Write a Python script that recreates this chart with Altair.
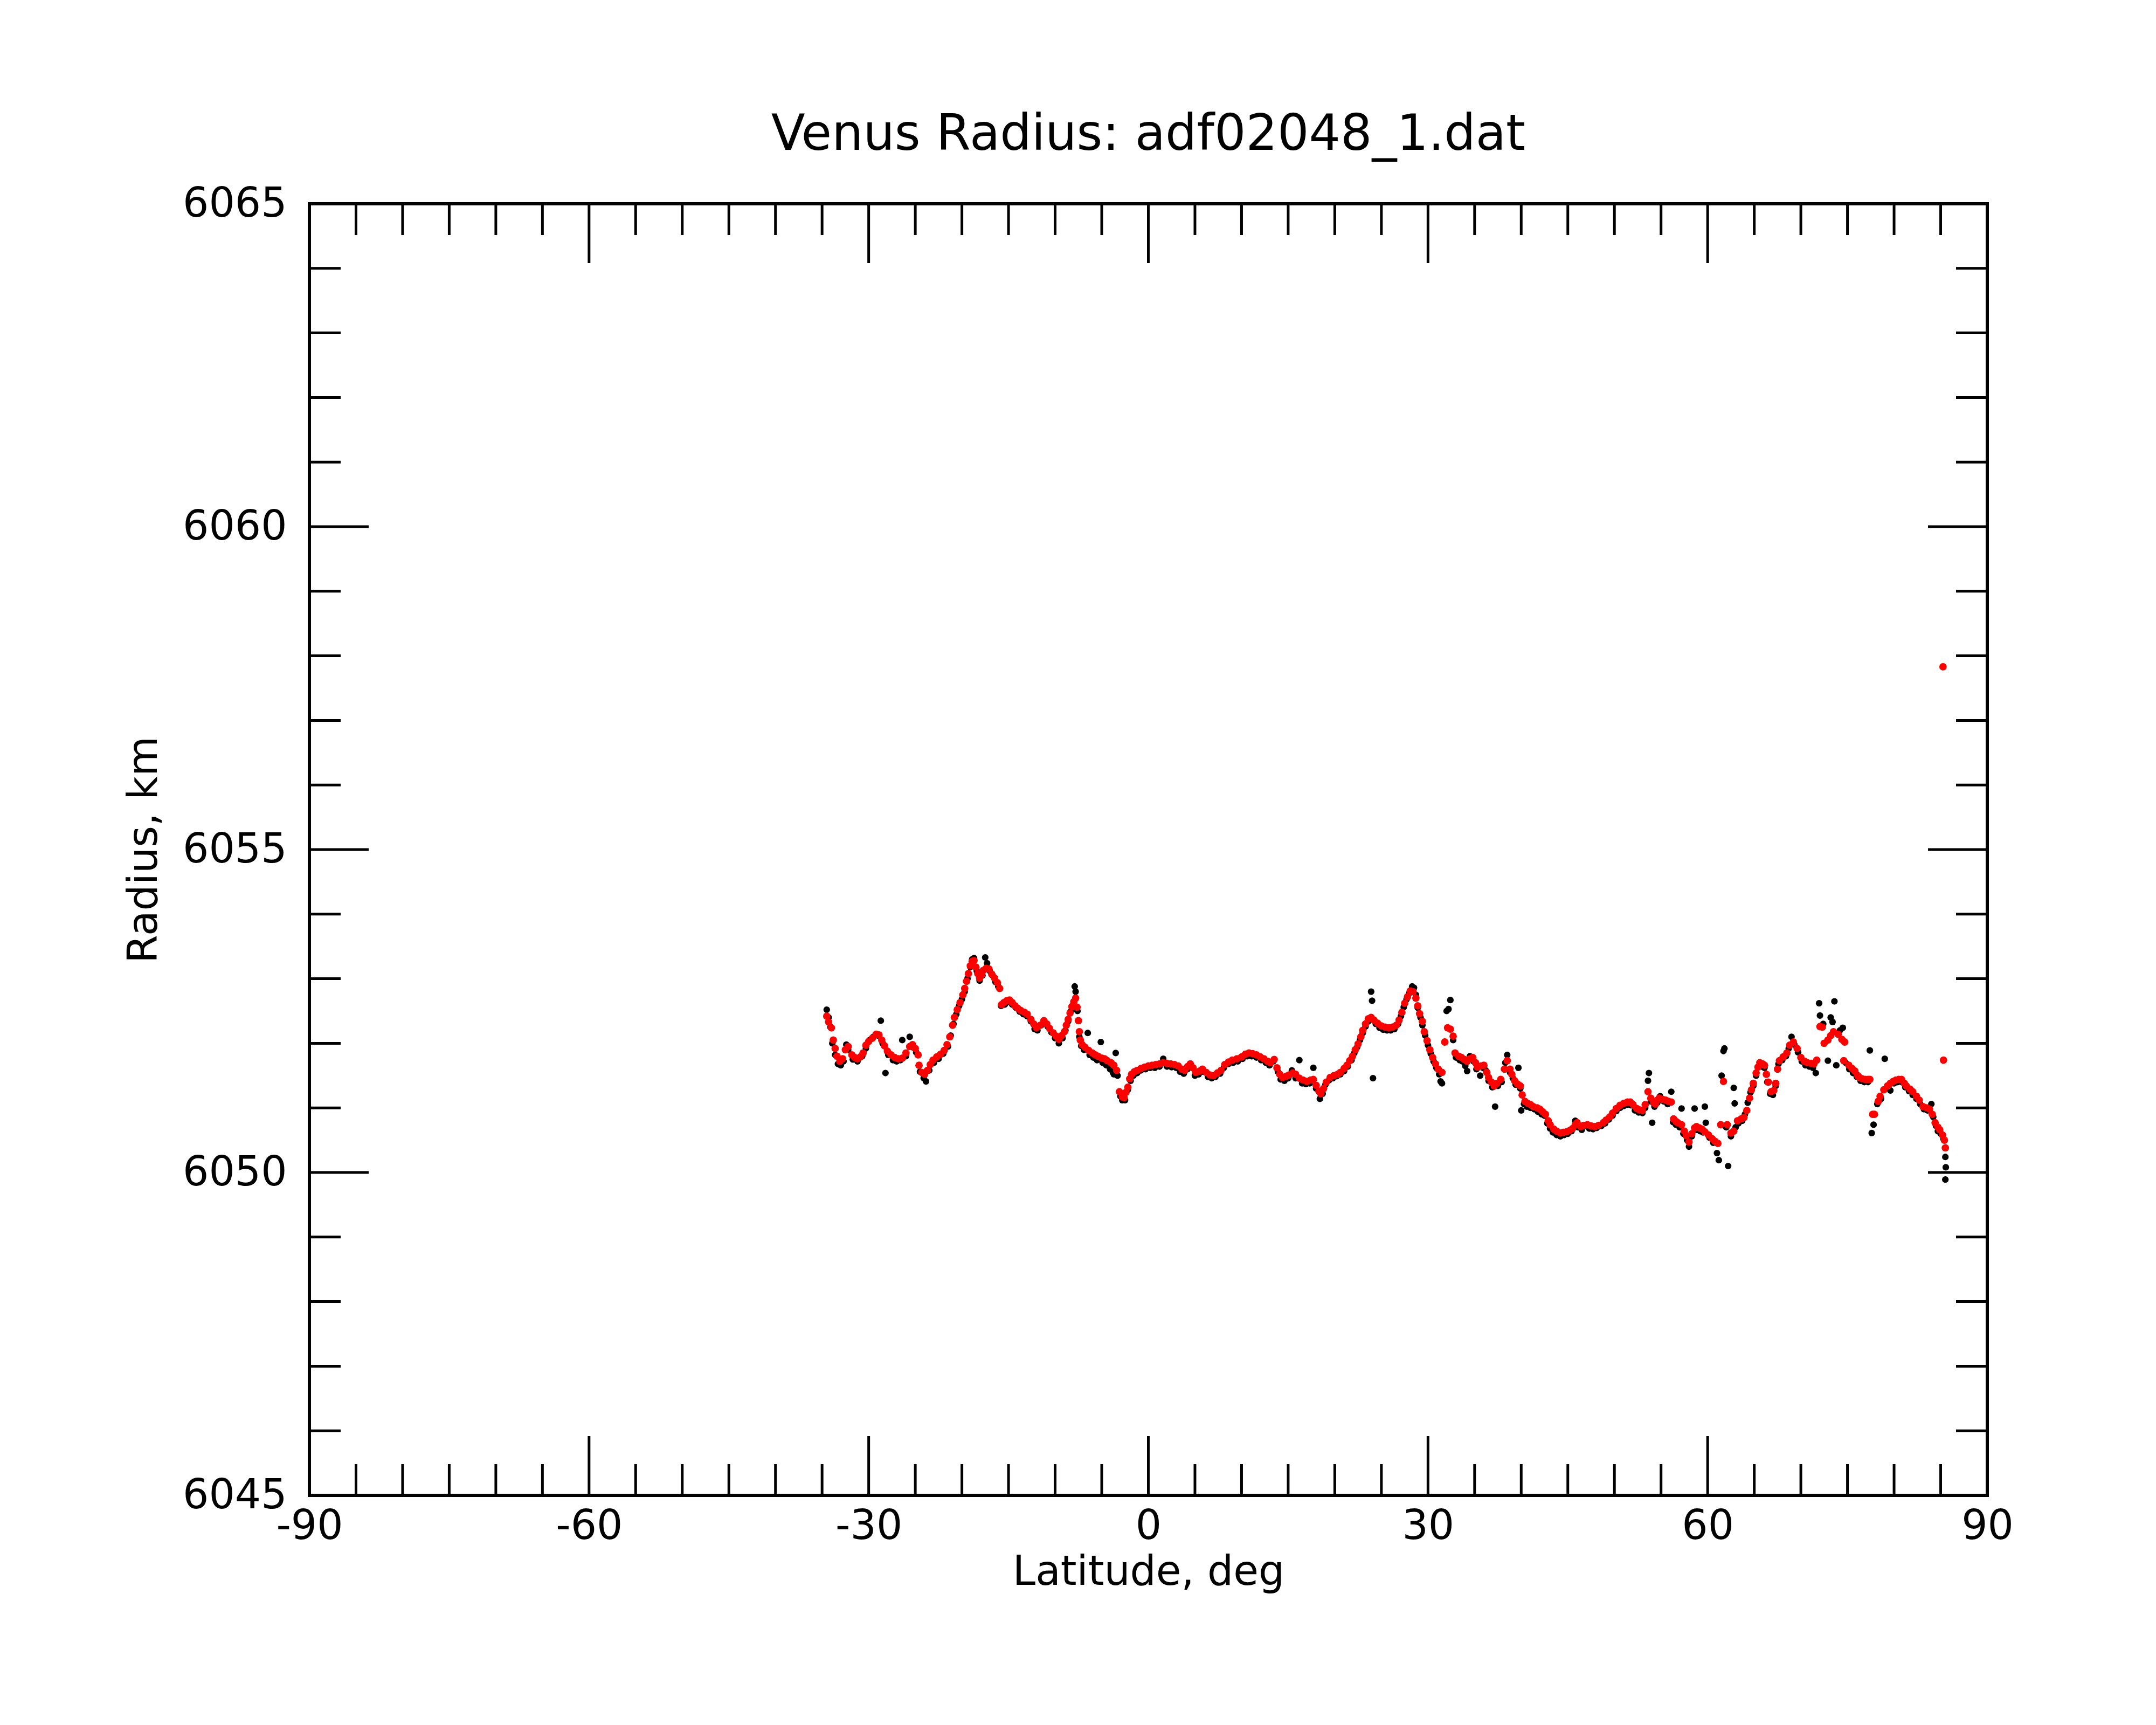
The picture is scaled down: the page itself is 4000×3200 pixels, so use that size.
import altair as alt
import pandas as pd

TITLE = "Venus Radius: adf02048_1.dat"
X_TITLE = "Latitude, deg"
Y_TITLE = "Radius, km"
X_LABELS = [-90, -60, -30, 0, 30, 60, 90]
Y_LABELS = [6045, 6050, 6055, 6060, 6065]
X_MAJOR = [-60, -30, 0, 30, 60]
X_MINOR = [-85, -80, -75, -70, -65, -55, -50, -45, -40, -35, -25, -20, -15, -10, -5,
           5, 10, 15, 20, 25, 35, 40, 45, 50, 55, 65, 70, 75, 80, 85]
Y_MAJOR = [6050, 6055, 6060]
Y_MINOR = [6046, 6047, 6048, 6049, 6051, 6052, 6053, 6054, 6056, 6057, 6058, 6059,
           6061, 6062, 6063, 6064]

# red series (latitude, radius)
red_points = [
    (-34.5, 6052.42), (-34.3, 6052.33), (-34.0, 6052.24), (-33.8, 6052.05), (-33.6, 6051.92),
    (-33.4, 6051.80), (-33.1, 6051.72), (-32.8, 6051.76), (-32.5, 6051.90), (-32.2, 6051.95),
    (-31.8, 6051.82), (-31.5, 6051.78), (-31.2, 6051.76), (-30.9, 6051.79), (-30.6, 6051.85),
    (-30.3, 6051.97), (-30.0, 6052.03), (-29.6, 6052.08), (-29.2, 6052.14), (-28.9, 6052.13),
    (-28.6, 6052.05), (-28.3, 6051.96), (-28.0, 6051.88), (-27.6, 6051.82), (-27.2, 6051.78),
    (-26.8, 6051.76), (-26.4, 6051.77), (-26.0, 6051.85), (-25.6, 6051.95), (-25.3, 6051.98),
    (-25.0, 6051.92), (-24.7, 6051.82), (-24.6, 6051.66), (-24.3, 6051.55), (-24.0, 6051.52),
    (-23.7, 6051.58), (-23.4, 6051.67), (-23.1, 6051.74), (-22.7, 6051.79), (-22.3, 6051.83),
    (-21.9, 6051.89), (-21.6, 6051.98), (-21.3, 6052.10), (-21.0, 6052.28), (-20.8, 6052.40),
    (-20.5, 6052.52), (-20.2, 6052.63), (-19.9, 6052.75), (-19.7, 6052.85), (-19.5, 6052.96),
    (-19.3, 6053.08), (-19.1, 6053.20), (-18.9, 6053.27), (-18.7, 6053.28), (-18.5, 6053.18),
    (-18.3, 6053.08), (-18.1, 6053.01), (-17.9, 6053.06), (-17.7, 6053.13), (-17.4, 6053.16),
    (-17.1, 6053.15), (-16.8, 6053.07), (-16.5, 6053.01), (-16.2, 6052.94), (-15.95, 6052.85),
    (-15.75, 6052.60), (-15.5, 6052.63), (-15.2, 6052.66), (-14.9, 6052.67), (-14.6, 6052.63),
    (-14.3, 6052.58), (-14.0, 6052.54), (-13.7, 6052.51), (-13.3, 6052.48), (-13.0, 6052.45),
    (-12.6, 6052.37), (-12.3, 6052.30), (-12.0, 6052.24), (-11.6, 6052.28), (-11.2, 6052.35),
    (-10.9, 6052.30), (-10.6, 6052.23), (-10.2, 6052.16), (-9.9, 6052.11), (-9.6, 6052.06),
    (-9.3, 6052.12), (-9.0, 6052.18), (-8.8, 6052.28), (-8.6, 6052.37), (-8.4, 6052.47),
    (-8.2, 6052.57), (-8.0, 6052.64), (-7.8, 6052.70), (-7.65, 6052.56), (-7.5, 6052.35),
    (-7.4, 6052.18), (-7.3, 6052.05), (-7.1, 6051.98), (-6.8, 6051.94), (-6.4, 6051.89),
    (-6.0, 6051.85), (-5.7, 6051.82), (-5.4, 6051.80), (-5.0, 6051.77), (-4.7, 6051.76),
    (-4.4, 6051.73), (-4.0, 6051.70), (-3.7, 6051.66), (-3.4, 6051.58), (-3.1, 6051.25),
    (-2.8, 6051.17), (-2.6, 6051.16), (-2.4, 6051.24), (-2.2, 6051.32), (-2.0, 6051.45),
    (-1.8, 6051.52), (-1.5, 6051.56), (-1.2, 6051.58), (-0.8, 6051.61), (-0.4, 6051.63),
    (0.0, 6051.65), (0.4, 6051.66), (0.8, 6051.67), (1.2, 6051.68), (1.6, 6051.70),
    (2.0, 6051.69), (2.4, 6051.68), (2.8, 6051.67), (3.2, 6051.65), (3.6, 6051.60),
    (3.9, 6051.58), (4.2, 6051.64), (4.5, 6051.68), (4.8, 6051.62), (5.1, 6051.55),
    (5.5, 6051.57), (5.8, 6051.60), (6.2, 6051.55), (6.6, 6051.51), (7.0, 6051.50),
    (7.4, 6051.54), (7.8, 6051.58), (8.2, 6051.67), (8.6, 6051.71), (9.0, 6051.74),
    (9.5, 6051.76), (10.0, 6051.79), (10.4, 6051.83), (10.8, 6051.85), (11.2, 6051.84),
    (11.6, 6051.82), (12.0, 6051.79), (12.4, 6051.76), (12.8, 6051.72), (13.1, 6051.70),
    (13.5, 6051.75), (13.8, 6051.62), (14.1, 6051.52), (14.4, 6051.47), (14.8, 6051.49),
    (15.1, 6051.51), (15.5, 6051.54), (15.8, 6051.52), (16.2, 6051.46), (16.6, 6051.43),
    (17.0, 6051.41), (17.4, 6051.43), (17.7, 6051.44), (18.0, 6051.35), (18.3, 6051.26),
    (18.5, 6051.22), (18.8, 6051.30), (19.1, 6051.40), (19.5, 6051.47), (19.9, 6051.50),
    (20.3, 6051.52), (20.6, 6051.55), (21.0, 6051.61), (21.3, 6051.66), (21.6, 6051.73),
    (21.9, 6051.80), (22.2, 6051.90), (22.5, 6051.99), (22.8, 6052.10), (23.0, 6052.20),
    (23.3, 6052.30), (23.6, 6052.38), (23.9, 6052.40), (24.2, 6052.36), (24.6, 6052.31),
    (25.0, 6052.27), (25.4, 6052.25), (25.8, 6052.24), (26.2, 6052.25), (26.6, 6052.28),
    (26.9, 6052.36), (27.2, 6052.48), (27.5, 6052.62), (27.8, 6052.72), (28.1, 6052.81),
    (28.4, 6052.80), (28.7, 6052.70), (28.9, 6052.58), (29.1, 6052.46), (29.4, 6052.34),
    (29.6, 6052.18), (29.9, 6052.04), (30.2, 6051.90), (30.5, 6051.78), (30.8, 6051.68),
    (31.1, 6051.60), (31.5, 6051.55), (31.8, 6052.02), (32.1, 6052.24), (32.4, 6052.22),
    (32.7, 6052.11), (32.9, 6051.85), (33.3, 6051.80), (33.6, 6051.78), (33.9, 6051.75),
    (34.2, 6051.72), (34.5, 6051.76), (34.8, 6051.78), (35.1, 6051.70), (35.3, 6051.63),
    (35.7, 6051.65), (36.0, 6051.66), (36.3, 6051.55), (36.5, 6051.47), (36.8, 6051.40),
    (37.1, 6051.34), (37.4, 6051.38), (37.8, 6051.44), (38.2, 6051.60), (38.5, 6051.73),
    (38.8, 6051.60), (39.0, 6051.52), (39.3, 6051.42), (39.6, 6051.37), (39.9, 6051.34),
    (40.1, 6051.20), (40.4, 6051.10), (40.7, 6051.07), (41.0, 6051.05), (41.3, 6051.02),
    (41.7, 6051.00), (42.0, 6050.98), (42.3, 6050.94), (42.6, 6050.90), (42.9, 6050.80),
    (43.1, 6050.74), (43.5, 6050.67), (43.8, 6050.64), (44.2, 6050.61), (44.5, 6050.62),
    (44.85, 6050.63), (45.2, 6050.65), (45.5, 6050.68), (45.8, 6050.74), (46.0, 6050.77),
    (46.4, 6050.71), (46.7, 6050.73), (47.1, 6050.74), (47.5, 6050.72), (47.9, 6050.71),
    (48.3, 6050.73), (48.8, 6050.77), (49.1, 6050.81), (49.5, 6050.86), (49.8, 6050.92),
    (50.2, 6050.99), (50.6, 6051.04), (51.0, 6051.07), (51.4, 6051.09), (51.7, 6051.09),
    (52.0, 6051.05), (52.4, 6050.99), (52.7, 6050.97), (53.0, 6050.96), (53.3, 6051.05),
    (53.6, 6051.25), (53.9, 6051.15), (54.2, 6051.08), (54.4, 6051.06), (54.6, 6051.12),
    (54.8, 6051.15), (55.2, 6051.13), (55.5, 6051.12), (55.8, 6051.10), (56.1, 6051.09),
    (56.35, 6050.83), (56.6, 6050.79), (56.8, 6050.77), (57.2, 6050.74), (57.5, 6050.64),
    (57.7, 6050.57), (58.0, 6050.47), (58.3, 6050.60), (58.6, 6050.69), (58.8, 6050.71),
    (59.1, 6050.69), (59.4, 6050.67), (59.7, 6050.63), (60.1, 6050.58), (60.5, 6050.52),
    (60.8, 6050.48), (61.1, 6050.45), (61.4, 6050.74), (61.7, 6051.41), (62.1, 6050.74),
    (62.5, 6050.61), (62.8, 6050.64), (63.2, 6050.80), (63.6, 6050.83), (63.9, 6050.85),
    (64.2, 6050.96), (64.5, 6051.15), (64.7, 6051.28), (64.9, 6051.38), (65.2, 6051.54),
    (65.4, 6051.63), (65.6, 6051.70), (65.9, 6051.68), (66.1, 6051.66), (66.3, 6051.52),
    (66.5, 6051.40), (66.8, 6051.25), (67.1, 6051.27), (67.3, 6051.38), (67.5, 6051.60),
    (67.7, 6051.73), (68.1, 6051.79), (68.5, 6051.85), (68.8, 6051.97), (69.2, 6052.02),
    (69.6, 6051.92), (70.0, 6051.78), (70.4, 6051.72), (70.7, 6051.70), (71.1, 6051.69),
    (71.4, 6051.68), (71.7, 6051.74), (72.05, 6052.26), (72.3, 6052.25), (72.5, 6052.00),
    (72.9, 6052.05), (73.2, 6052.12), (73.5, 6052.18), (74.0, 6052.14), (74.4, 6052.06),
    (74.7, 6052.02), (74.6, 6051.73), (75.15, 6051.66), (75.5, 6051.61), (75.8, 6051.57),
    (76.1, 6051.50), (76.3, 6051.47), (76.6, 6051.45), (76.9, 6051.44), (77.2, 6051.44),
    (77.4, 6051.44), (77.7, 6050.90), (77.9, 6050.90), (78.3, 6051.10), (78.5, 6051.18),
    (78.9, 6051.28), (79.3, 6051.34), (79.6, 6051.38), (79.9, 6051.41), (80.2, 6051.43),
    (80.5, 6051.44), (80.8, 6051.44), (81.1, 6051.38), (81.3, 6051.34), (81.7, 6051.29),
    (82.0, 6051.25), (82.4, 6051.18), (82.7, 6051.12), (83.1, 6051.02), (83.5, 6051.00),
    (83.8, 6050.98), (84.1, 6050.90), (84.4, 6050.77), (84.7, 6050.70), (84.9, 6050.66),
    (85.2, 6050.58), (85.4, 6050.50), (85.5, 6050.38), (85.3, 6051.74), (85.25, 6057.83),
]

# black series (latitude, radius)
black_points = [
    (-34.5, 6052.52), (-34.3, 6052.40), (-34.1, 6052.25), (-33.9, 6052.00), (-33.6, 6051.82),
    (-33.3, 6051.68), (-33.0, 6051.66), (-32.7, 6051.72), (-32.4, 6051.98), (-32.2, 6051.90),
    (-31.7, 6051.75), (-31.2, 6051.72), (-30.7, 6051.80), (-30.3, 6051.92), (-29.9, 6052.05),
    (-29.5, 6052.10), (-29.0, 6052.12), (-28.7, 6052.35), (-28.5, 6052.00), (-28.2, 6051.54),
    (-27.9, 6051.82), (-27.4, 6051.74), (-27.0, 6051.72), (-26.6, 6051.74), (-26.4, 6052.05),
    (-26.0, 6051.80), (-25.6, 6052.10), (-25.3, 6051.94), (-24.9, 6051.86), (-24.5, 6051.56),
    (-24.1, 6051.46), (-23.85, 6051.41), (-23.5, 6051.58), (-23.0, 6051.70), (-22.5, 6051.76),
    (-22.0, 6051.84), (-21.5, 6051.95), (-21.2, 6052.12), (-20.9, 6052.30), (-20.6, 6052.45),
    (-20.3, 6052.58), (-20.0, 6052.68), (-19.7, 6052.80), (-19.4, 6053.00), (-19.1, 6053.18),
    (-18.9, 6053.30), (-18.7, 6053.32), (-18.4, 6053.12), (-18.1, 6052.97), (-17.8, 6053.05),
    (-17.5, 6053.33), (-17.3, 6053.24), (-17.0, 6053.12), (-16.7, 6053.05), (-16.4, 6052.95),
    (-16.1, 6052.88), (-15.8, 6052.58), (-15.4, 6052.60), (-15.0, 6052.64), (-14.6, 6052.60),
    (-14.2, 6052.55), (-13.8, 6052.49), (-13.4, 6052.45), (-13.0, 6052.42), (-12.6, 6052.34),
    (-12.2, 6052.22), (-11.9, 6052.20), (-11.5, 6052.28), (-11.2, 6052.34), (-10.8, 6052.26),
    (-10.4, 6052.17), (-10.0, 6052.08), (-9.6, 6052.00), (-9.2, 6052.08), (-8.9, 6052.20),
    (-8.6, 6052.34), (-8.3, 6052.50), (-8.0, 6052.65), (-7.9, 6052.88), (-7.8, 6052.80),
    (-7.6, 6052.50), (-7.4, 6052.10), (-7.2, 6051.96), (-6.9, 6051.90), (-6.5, 6052.16),
    (-6.3, 6051.82), (-5.9, 6051.78), (-5.5, 6051.74), (-5.1, 6052.02), (-4.9, 6051.70),
    (-4.5, 6051.66), (-4.1, 6051.60), (-3.8, 6051.55), (-3.7, 6051.52), (-3.5, 6051.85),
    (-3.3, 6051.50), (-3.0, 6051.18), (-2.8, 6051.12), (-2.5, 6051.12), (-2.2, 6051.28),
    (-1.9, 6051.42), (-1.6, 6051.50), (-1.2, 6051.54), (-0.8, 6051.58), (-0.3, 6051.60),
    (0.2, 6051.62), (0.7, 6051.62), (1.2, 6051.64), (1.6, 6051.76), (2.0, 6051.64),
    (2.5, 6051.63), (3.0, 6051.62), (3.4, 6051.56), (3.8, 6051.53), (4.2, 6051.60),
    (4.6, 6051.64), (5.0, 6051.50), (5.4, 6051.52), (5.9, 6051.56), (6.4, 6051.48),
    (6.8, 6051.46), (7.2, 6051.48), (7.7, 6051.53), (8.1, 6051.62), (8.6, 6051.68),
    (9.1, 6051.70), (9.6, 6051.72), (10.1, 6051.76), (10.6, 6051.80), (11.1, 6051.80),
    (11.6, 6051.78), (12.1, 6051.74), (12.6, 6051.70), (13.0, 6051.66), (13.4, 6051.72),
    (13.9, 6051.56), (14.2, 6051.44), (14.6, 6051.42), (15.0, 6051.46), (15.4, 6051.58),
    (15.8, 6051.46), (16.2, 6051.74), (16.5, 6051.38), (16.9, 6051.37), (17.3, 6051.38),
    (17.7, 6051.62), (18.0, 6051.30), (18.4, 6051.14), (18.7, 6051.22), (19.0, 6051.36),
    (19.4, 6051.43), (19.8, 6051.46), (20.2, 6051.49), (20.6, 6051.52), (21.0, 6051.57),
    (21.4, 6051.64), (21.8, 6051.74), (22.1, 6051.85), (22.4, 6051.94), (22.7, 6052.05),
    (23.0, 6052.16), (23.3, 6052.26), (23.6, 6052.34), (23.9, 6052.80), (24.0, 6052.66),
    (24.1, 6051.46), (24.4, 6052.30), (24.8, 6052.24), (25.2, 6052.21), (25.6, 6052.20),
    (26.0, 6052.20), (26.4, 6052.22), (26.8, 6052.30), (27.1, 6052.42), (27.4, 6052.56),
    (27.7, 6052.68), (28.0, 6052.78), (28.3, 6052.88), (28.5, 6052.86), (28.7, 6052.75),
    (28.9, 6052.55), (29.2, 6052.40), (29.4, 6052.28), (29.7, 6052.12), (30.0, 6051.97),
    (30.3, 6051.84), (30.6, 6051.72), (30.9, 6051.62), (31.2, 6051.52), (31.35, 6051.41),
    (31.5, 6051.38), (32.0, 6052.50), (32.2, 6052.53), (32.4, 6052.67), (32.7, 6052.05),
    (33.0, 6051.78), (33.4, 6051.74), (33.7, 6051.72), (34.0, 6051.65), (34.2, 6051.57),
    (34.5, 6051.80), (34.9, 6051.72), (35.2, 6051.60), (35.6, 6051.50), (35.9, 6051.62),
    (36.2, 6051.58), (36.5, 6051.42), (36.9, 6051.32), (37.2, 6051.02), (37.5, 6051.34),
    (37.9, 6051.40), (38.3, 6051.70), (38.5, 6051.82), (38.8, 6051.55), (39.1, 6051.46),
    (39.4, 6051.36), (39.7, 6051.62), (39.9, 6051.30), (40.0, 6050.96), (40.3, 6051.06),
    (40.6, 6051.02), (41.0, 6051.00), (41.4, 6050.98), (41.8, 6050.94), (42.2, 6050.90),
    (42.5, 6050.88), (42.8, 6050.76), (43.1, 6050.68), (43.4, 6050.62), (43.8, 6050.58),
    (44.2, 6050.56), (44.6, 6050.58), (45.0, 6050.60), (45.4, 6050.64), (45.8, 6050.80),
    (46.1, 6050.70), (46.5, 6050.66), (46.9, 6050.72), (47.3, 6050.68), (47.7, 6050.67),
    (48.1, 6050.69), (48.6, 6050.72), (49.0, 6050.76), (49.4, 6050.82), (49.8, 6050.88),
    (50.2, 6050.95), (50.6, 6051.00), (51.0, 6051.03), (51.4, 6051.05), (51.8, 6051.04),
    (52.2, 6050.96), (52.6, 6050.93), (53.0, 6050.92), (53.3, 6051.00), (53.6, 6051.42),
    (53.7, 6051.54), (53.9, 6051.10), (54.05, 6050.77), (54.3, 6051.02), (54.6, 6051.08),
    (54.9, 6051.18), (55.3, 6051.10), (55.7, 6051.06), (56.1, 6051.25), (56.3, 6050.78),
    (56.6, 6050.74), (57.0, 6050.70), (57.2, 6050.99), (57.4, 6050.60), (57.8, 6050.50),
    (58.0, 6050.40), (58.3, 6050.56), (58.6, 6050.99), (58.8, 6050.66), (59.2, 6050.64),
    (59.5, 6050.62), (59.7, 6051.02), (59.8, 6050.77), (60.2, 6050.54), (60.6, 6050.46),
    (61.0, 6050.30), (61.2, 6050.19), (61.5, 6051.50), (61.7, 6051.88), (61.8, 6051.92),
    (62.0, 6050.70), (62.2, 6050.10), (62.5, 6050.56), (62.8, 6051.31), (62.9, 6051.07),
    (63.0, 6050.70), (63.3, 6050.76), (63.7, 6050.80), (64.0, 6050.90), (64.3, 6051.08),
    (64.6, 6051.24), (64.9, 6051.34), (65.2, 6051.50), (65.5, 6051.64), (65.8, 6051.64),
    (66.1, 6051.62), (66.4, 6051.40), (66.7, 6051.22), (67.0, 6051.20), (67.3, 6051.34),
    (67.6, 6051.68), (68.0, 6051.74), (68.4, 6051.80), (68.7, 6051.92), (69.0, 6052.10),
    (69.3, 6051.98), (69.7, 6051.86), (70.1, 6051.72), (70.5, 6051.66), (70.9, 6051.64),
    (71.3, 6051.62), (71.6, 6051.54), (71.96, 6052.62), (72.05, 6052.43), (72.4, 6052.30),
    (72.9, 6051.73), (73.2, 6052.40), (73.4, 6052.33), (73.6, 6052.65), (73.8, 6051.66),
    (74.2, 6052.20), (74.5, 6052.24), (74.8, 6051.70), (75.2, 6051.60), (75.6, 6051.54),
    (76.0, 6051.48), (76.4, 6051.42), (76.8, 6051.40), (77.2, 6051.40), (77.4, 6051.89),
    (77.6, 6050.61), (77.8, 6050.74), (78.2, 6051.06), (78.6, 6051.14), (79.0, 6051.76),
    (79.2, 6051.30), (79.6, 6051.27), (80.0, 6051.38), (80.4, 6051.40), (80.8, 6051.40),
    (81.2, 6051.32), (81.6, 6051.26), (82.0, 6051.20), (82.4, 6051.14), (82.8, 6051.06),
    (83.2, 6050.98), (83.6, 6050.96), (84.0, 6051.06), (84.2, 6050.86), (84.5, 6050.72),
    (84.7, 6050.64), (85.0, 6050.60), (85.3, 6050.52), (85.5, 6050.24), (85.55, 6050.08),
    (85.5, 6049.89),
]

W, H = 3113, 2396
FONT = "DejaVu Sans"

red_df = pd.DataFrame(red_points, columns=["lat", "r"])
blk_df = pd.DataFrame(black_points, columns=["lat", "r"])

xscale = alt.Scale(domain=[-90, 90], nice=False, zero=False)
yscale = alt.Scale(domain=[6045, 6065], nice=False, zero=False)

x_axis = alt.Axis(values=X_LABELS, labelExpr="'' + datum.value", labelPadding=20, titlePadding=10,
                  labelFlush=False, labelOverlap=False, labelLimit=500)
y_axis = alt.Axis(values=Y_LABELS, labelExpr="'' + datum.value", labelPadding=42, titlePadding=68,
                  labelFlush=False, labelOverlap=False, labelLimit=500)
x_enc = alt.X("lat:Q", scale=xscale, title=X_TITLE, axis=x_axis)
y_enc = alt.Y("r:Q", scale=yscale, title=Y_TITLE, axis=y_axis)

black = alt.Chart(blk_df).mark_circle(size=150, color="black", opacity=1).encode(x=x_enc, y=y_enc)
red = alt.Chart(red_df).mark_circle(size=190, color="red", opacity=1).encode(x=x_enc, y=y_enc)


def xticks(vals, length):
    df = pd.DataFrame({"lat": vals})
    base = alt.Chart(df).mark_rule(color="black", strokeWidth=5)
    top = base.encode(x=x_enc, y=alt.value(0), y2=alt.value(length))
    bot = base.encode(x=x_enc, y=alt.value(H), y2=alt.value(H - length))
    return [top, bot]


def yticks(vals, length):
    df = pd.DataFrame({"r": vals})
    base = alt.Chart(df).mark_rule(color="black", strokeWidth=5)
    left = base.encode(y=y_enc, x=alt.value(0), x2=alt.value(length))
    right = base.encode(y=y_enc, x=alt.value(W), x2=alt.value(W - length))
    return [left, right]


layers = [black, red] + xticks(X_MAJOR, 110) + xticks(X_MINOR, 58) + yticks(Y_MAJOR, 110) + yticks(Y_MINOR, 58)

chart = alt.layer(*layers).properties(
    width=W, height=H,
    title=alt.TitleParams(text=TITLE, font=FONT, fontSize=92, fontWeight="normal", color="black",
                          anchor="middle", frame="group", baseline="alphabetic", offset=5, dy=35),
    autosize=alt.AutoSizeParams(type="none"),
    padding={"left": 566, "top": 370, "right": 300, "bottom": 410},
).configure_view(stroke="black", strokeWidth=6).configure_axis(
    grid=False, ticks=False, tickSize=0, domain=False,
    labelFont=FONT, labelFontSize=76, labelColor="black",
    titleFont=FONT, titleFontSize=76, titleFontWeight="normal", titleColor="black",
)

chart.save("out.html", embed_options={"renderer": "svg", "actions": False})
